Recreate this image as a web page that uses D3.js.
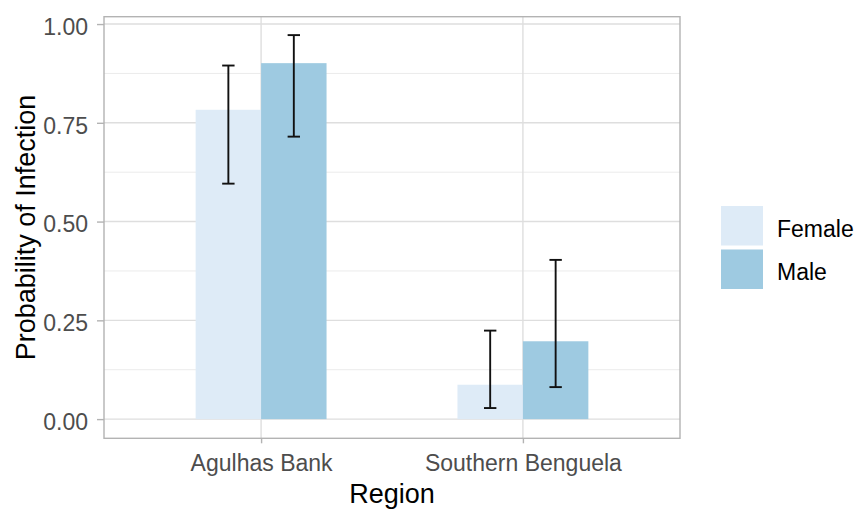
<!DOCTYPE html>
<html><head><meta charset="utf-8">
<script src="https://cdn.jsdelivr.net/npm/d3@7"></script>
<style>body{margin:0;background:#fff}svg{display:block}text{font-family:"Liberation Sans",Arial,sans-serif}</style>
</head><body>
<svg id="c" width="859" height="509"></svg>
<script>
const regions = ["Agulhas Bank", "Southern Benguela"];
const sexes = ["Female", "Male"];
const colors = ["#DEEBF7", "#9ECAE1"];
const probFemale = [0.783, 0.087];
const probMale = [0.901, 0.197];
const lowerFemale = [0.596, 0.028];
const upperFemale = [0.895, 0.224];
const lowerMale = [0.715, 0.081];
const upperMale = [0.972, 0.403];
const yTicks = [0, 0.25, 0.5, 0.75, 1.0];
const yMinor = [0.125, 0.375, 0.625, 0.875];

const rows = [];
regions.forEach((r, i) => {
  rows.push({region: r, sex: "Female", p: probFemale[i], lo: lowerFemale[i], hi: upperFemale[i]});
  rows.push({region: r, sex: "Male", p: probMale[i], lo: lowerMale[i], hi: upperMale[i]});
});

const svg = d3.select("#c");
const L = 104, R = 680, T = 16.7, B = 438.3;
const x = d3.scalePoint().domain(regions).range([L, R]).padding(0.6);
const step = x.step();
const xs = d3.scaleBand().domain(sexes).range([-0.25 * step, 0.25 * step]);
const y = d3.scaleLinear().domain([-0.0486, 1.0186]).range([B, T]);
const color = d3.scaleOrdinal().domain(sexes).range(colors);

// grid
const g = svg.append("g");
g.selectAll(".mn").data(yMinor).join("line")
  .attr("x1", L).attr("x2", R).attr("y1", d => y(d)).attr("y2", d => y(d))
  .attr("stroke", "#EBEBEB").attr("stroke-width", 1);
g.selectAll(".mj").data(yTicks).join("line")
  .attr("x1", L).attr("x2", R).attr("y1", d => y(d)).attr("y2", d => y(d))
  .attr("stroke", "#DEDEDE").attr("stroke-width", 1.4);
g.selectAll(".vx").data(regions).join("line")
  .attr("x1", d => x(d)).attr("x2", d => x(d)).attr("y1", T).attr("y2", B)
  .attr("stroke", "#DEDEDE").attr("stroke-width", 1.4);

// bars
svg.append("g").selectAll("rect").data(rows).join("rect")
  .attr("x", d => x(d.region) + xs(d.sex))
  .attr("width", xs.bandwidth())
  .attr("y", d => y(d.p))
  .attr("height", d => y(0) - y(d.p))
  .attr("fill", d => color(d.sex));

// error bars
const eb = svg.append("g").attr("stroke", "#111").attr("stroke-width", 1.9);
const cap = 6.2;
rows.forEach(d => {
  const cx = x(d.region) + xs(d.sex) + xs.bandwidth() / 2;
  eb.append("line").attr("x1", cx).attr("x2", cx).attr("y1", y(d.lo)).attr("y2", y(d.hi));
  eb.append("line").attr("x1", cx - cap).attr("x2", cx + cap).attr("y1", y(d.lo)).attr("y2", y(d.lo));
  eb.append("line").attr("x1", cx - cap).attr("x2", cx + cap).attr("y1", y(d.hi)).attr("y2", y(d.hi));
});

// panel border
svg.append("rect").attr("x", L).attr("y", T).attr("width", R - L).attr("height", B - T)
  .attr("fill", "none").attr("stroke", "#B3B3B3").attr("stroke-width", 1.4);

// axes
const ya = svg.append("g").attr("transform", `translate(${L},0)`)
  .call(d3.axisLeft(y).tickValues(yTicks).tickFormat(d3.format(".2f")).tickSize(7).tickPadding(9));
const xa = svg.append("g").attr("transform", `translate(0,${B})`)
  .call(d3.axisBottom(x).tickSize(5).tickPadding(11));
[ya, xa].forEach(a => {
  a.select(".domain").remove();
  a.selectAll(".tick line").attr("stroke", "#B3B3B3").attr("stroke-width", 1.4);
  a.selectAll(".tick text").attr("fill", "#4D4D4D").style("font-size", "23px");
});
ya.selectAll(".tick text").attr("dy", "0.45em");

// titles
svg.append("text").attr("x", (L + R) / 2).attr("y", 503).attr("text-anchor", "middle")
  .style("font-size", "27px").attr("fill", "#000").text("Region");
svg.append("text").attr("transform", `translate(35,${(T + B) / 2}) rotate(-90)`)
  .attr("text-anchor", "middle").style("font-size", "27px").attr("fill", "#000")
  .text("Probability of Infection");

// legend
const lg = svg.append("g");
sexes.forEach((s, i) => {
  const ky = 206 + i * 43.5;
  lg.append("rect").attr("x", 721).attr("y", ky).attr("width", 42).attr("height", 39.5)
    .attr("fill", color(s));
  lg.append("text").attr("x", 777).attr("y", ky + 30.5)
    .style("font-size", "23px").attr("fill", "#000").text(s);
});
</script>
</body></html>
